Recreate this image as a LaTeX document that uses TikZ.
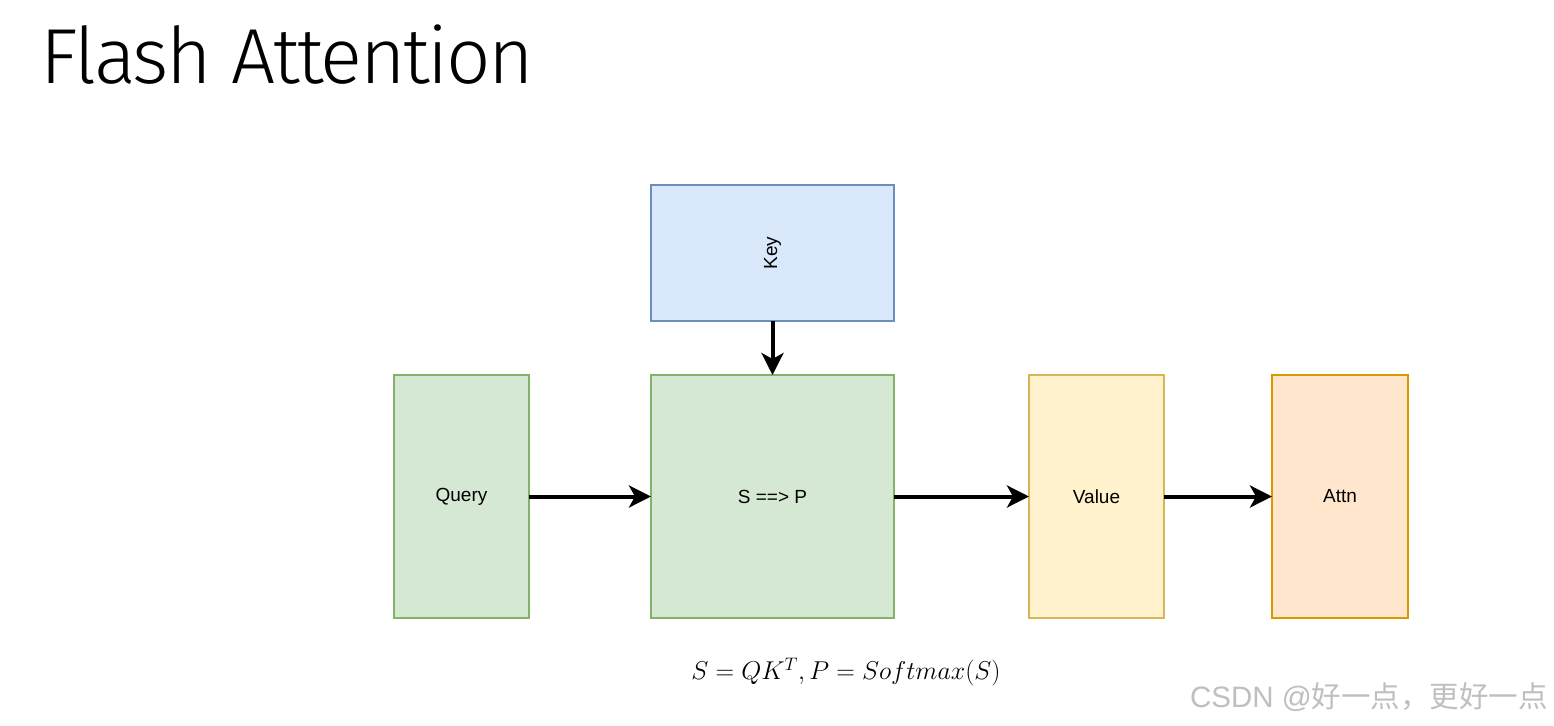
\RequirePackage{fix-cm}
\documentclass[tikz,border=0pt]{standalone}
\usepackage{fontspec}
\setmainfont{Liberation Sans}
\newfontfamily\titlefont[LetterSpace=-3]{Fira Sans Light}
\newfontfamily\cjkfont{Noto Sans CJK SC}
\usetikzlibrary{arrows.meta}
\definecolor{keyfill}{HTML}{DAE8FC}\definecolor{keydraw}{HTML}{6C8EBF}
\definecolor{grfill}{HTML}{D5E8D4}\definecolor{grdraw}{HTML}{82B366}
\definecolor{yefill}{HTML}{FFF2CC}\definecolor{yedraw}{HTML}{D6B656}
\definecolor{orfill}{HTML}{FFE6CC}\definecolor{ordraw}{HTML}{D79B00}
\begin{document}
\begin{tikzpicture}[x=1pt,y=-1pt,
  blk/.style={draw, line width=1.2pt, inner sep=0pt},
  lbl/.style={font=\fontsize{19}{22}\selectfont},
  conn/.style={line width=4pt, -{Stealth[length=22pt,width=22pt,inset=6pt]}}]
\useasboundingbox[fill=white] (0,0) rectangle (1554,725);
\node[anchor=base west, inner sep=0pt, font=\titlefont\fontsize{78}{84}\selectfont] (title) at (40,83) {Flash Attention};
\draw[blk, fill=keyfill, draw=keydraw] (651,185) rectangle (894,321);
\node[lbl, rotate=90] (key) at (772.5,253) {Key};
\coordinate (keyb) at (772.5,321);
\draw[blk, fill=grfill, draw=grdraw] (394,375) rectangle (529,618);
\node[lbl] (query) at (461.5,497) {Query};
\draw[blk, fill=grfill, draw=grdraw] (651,375) rectangle (894,618);
\node[lbl] (sp) at (772.5,496.5) {S ==> P};
\draw[blk, fill=yefill, draw=yedraw] (1029,375) rectangle (1164,618);
\node[lbl] (value) at (1096.5,496.5) {Value};
\draw[blk, fill=orfill, draw=ordraw] (1272,375) rectangle (1408,618);
\node[lbl] (attn) at (1340,496.5) {Attn};
\coordinate (spt) at (772.5,375);
\coordinate (qr) at (529,496.5);
\coordinate (spl) at (651,496.5);
\coordinate (spr) at (894,496.5);
\coordinate (vl) at (1029,496.5);
\coordinate (vr) at (1164,496.5);
\coordinate (al) at (1272,496.5);
\draw[conn] (keyb) -- (spt);
\draw[conn] (qr) -- (spl);
\draw[conn] (spr) -- (vl);
\draw[conn] (vr) -- (al);
\node[font=\fontsize{25.8}{30}\selectfont] (formula) at (846,672) {$S=QK^T,P=Softmax(S)$};
\node[anchor=base east, text=black!25, inner sep=0pt, font=\fontsize{29.5}{33}\selectfont] (csdn) at (1548,707) {CSDN @{\cjkfont 好一点，更好一点}};
\end{tikzpicture}
\end{document}
